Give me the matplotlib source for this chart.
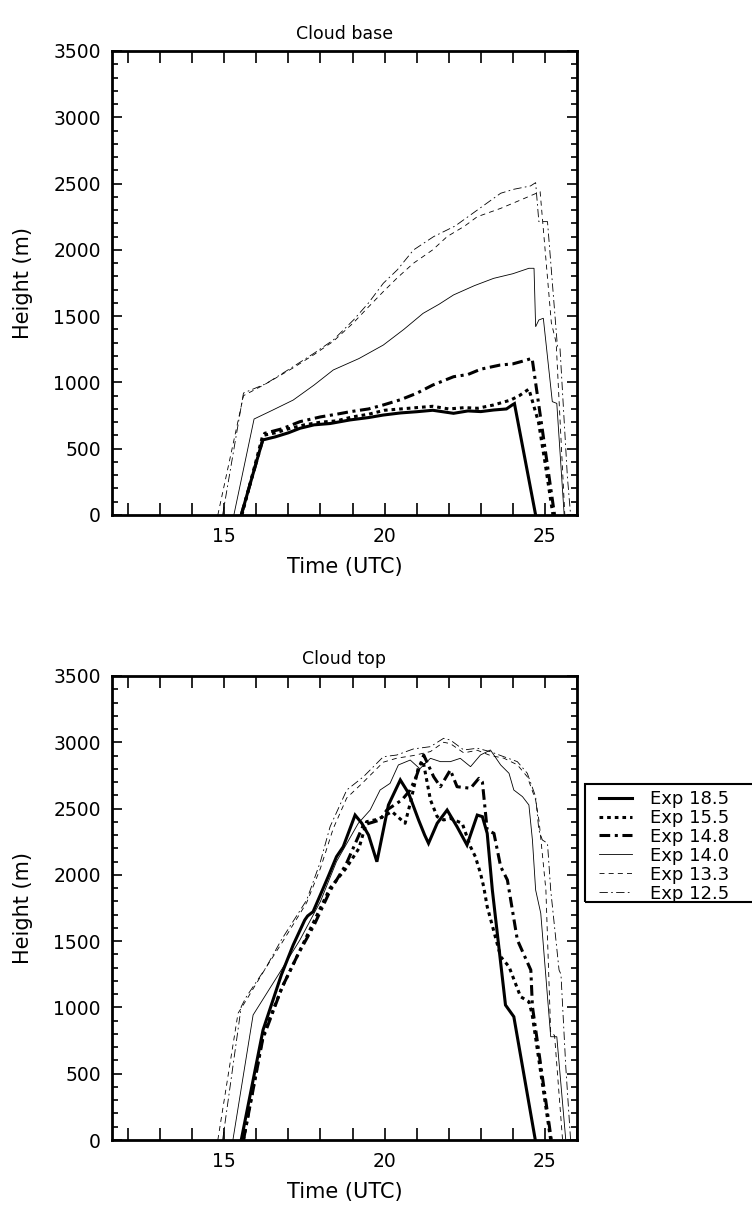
import matplotlib
matplotlib.use("Agg")
import matplotlib.pyplot as plt
from matplotlib.ticker import MultipleLocator, FixedLocator
from matplotlib.patches import Rectangle

plt.rcParams['font.family'] = ['DejaVu Sans']

# ---------------- data: cloud base ----------------
base185_t = [15.53, 16.2, 16.6, 17.0, 17.36, 17.8, 18.3, 18.92, 19.5, 19.96, 20.5, 21.0, 21.5, 22.15, 22.6, 23.0, 23.4, 23.8, 23.98, 24.05, 24.71]
base185_h = [0, 566, 590, 620, 654, 680, 690, 717, 735, 754, 770, 779, 790, 767, 785, 780, 792, 800, 830, 840, 0]

base155_t = [15.55, 16.2, 16.6, 17.0, 17.5, 18.0, 18.5, 19.0, 19.5, 20.0, 20.5, 21.0, 21.5, 22.0, 22.5, 22.9, 23.4, 23.93, 24.2, 24.5, 24.8, 25.0, 25.25]
base155_h = [0, 600, 620, 650, 680, 700, 710, 740, 760, 790, 800, 810, 820, 800, 810, 805, 830, 867, 900, 950, 700, 400, 0]

base148_t = [15.53, 16.26, 16.8, 17.36, 18.0, 18.5, 18.92, 19.5, 19.96, 20.5, 21.0, 21.5, 22.15, 22.6, 23.0, 23.6, 24.0, 24.3, 24.6, 25.3]
base148_h = [0, 616, 650, 704, 740, 760, 779, 800, 830, 870, 918, 980, 1043, 1060, 1100, 1131, 1140, 1160, 1182, 0]

base140_t = [15.3, 15.93, 16.5, 17.15, 17.8, 18.4, 19.2, 19.96, 20.6, 21.2, 21.7, 22.15, 22.8, 23.4, 24.0, 24.5, 24.66, 24.71, 24.81, 24.95, 25.23, 25.37, 25.6]
base140_h = [0, 724, 790, 867, 980, 1094, 1180, 1282, 1400, 1521, 1590, 1660, 1730, 1785, 1820, 1861, 1861, 1420, 1471, 1484, 855, 842, 0]

base133_t = [14.8, 15.6, 16.3, 17.15, 17.8, 18.4, 19.03, 19.5, 19.96, 20.4, 20.9, 21.5, 21.95, 22.5, 22.89, 23.62, 24.24, 24.85, 25.2, 25.35, 25.62]
base133_h = [0, 900, 990, 1110, 1210, 1310, 1450, 1570, 1685, 1790, 1899, 2000, 2100, 2180, 2250, 2313, 2376, 2439, 1450, 1300, 0]

base125_t = [14.95, 15.6, 16.3, 17.15, 17.8, 18.4, 19.03, 19.5, 19.96, 20.4, 20.9, 21.53, 22.2, 22.89, 23.62, 24.03, 24.55, 24.71, 24.81, 25.08, 25.39, 25.47, 25.7, 25.8]
base125_h = [0, 920, 990, 1119, 1220, 1320, 1471, 1600, 1748, 1850, 1999, 2100, 2180, 2300, 2427, 2457, 2482, 2507, 2213, 2213, 1270, 1257, 289, 0]

# ---------------- data: cloud top ----------------
top185_t = [15.53, 16.21, 16.78, 17.15, 17.51, 17.6, 17.77, 18.04, 18.24, 18.5, 18.71, 19.08, 19.29, 19.5, 19.76, 20.12, 20.49, 20.75, 21.06, 21.25, 21.37, 21.64, 21.95, 22.26, 22.57, 22.89, 23.05, 23.2, 23.36, 23.77, 24.03, 24.7]
top185_h = [0, 830, 1245, 1471, 1659, 1690, 1722, 1873, 1986, 2137, 2212, 2451, 2389, 2300, 2099, 2527, 2716, 2615, 2414, 2300, 2238, 2389, 2489, 2363, 2225, 2451, 2439, 2313, 1886, 1018, 930, 0]

top155_t = [15.6, 16.2, 16.8, 17.3, 17.8, 18.3, 18.8, 19.2, 19.44, 19.8, 20.23, 20.64, 20.8, 21.06, 21.2, 21.43, 21.64, 21.84, 22.05, 22.42, 22.68, 22.83, 22.99, 23.09, 23.2, 23.62, 23.88, 24.24, 24.5, 24.6, 25.18]
top155_h = [0, 780, 1150, 1400, 1650, 1900, 2050, 2200, 2401, 2420, 2477, 2389, 2540, 2816, 2860, 2565, 2439, 2414, 2426, 2389, 2212, 2137, 2012, 1911, 1760, 1383, 1307, 1081, 1043, 950, 0]

top148_t = [15.6, 16.2, 16.8, 17.3, 17.8, 18.3, 18.8, 19.34, 19.86, 20.07, 20.54, 20.8, 21.0, 21.22, 21.53, 21.74, 22.05, 22.26, 22.68, 22.94, 23.05, 23.2, 23.41, 23.62, 23.83, 24.14, 24.56, 24.61, 25.2]
top148_h = [0, 760, 1150, 1400, 1620, 1880, 2080, 2376, 2414, 2489, 2565, 2640, 2750, 2904, 2740, 2665, 2791, 2665, 2653, 2728, 2700, 2338, 2313, 2062, 1961, 1509, 1282, 1006, 0]

top140_t = [15.27, 15.9, 16.78, 17.36, 18.0, 18.5, 19.18, 19.55, 19.86, 20.17, 20.43, 20.8, 21.1, 21.43, 21.74, 22.05, 22.36, 22.68, 22.99, 23.3, 23.62, 23.88, 24.03, 24.3, 24.5, 24.61, 24.71, 24.87, 25.18, 25.37, 25.65]
top140_h = [0, 943, 1282, 1509, 1800, 2100, 2389, 2489, 2640, 2690, 2829, 2866, 2800, 2879, 2854, 2854, 2879, 2816, 2904, 2942, 2829, 2766, 2640, 2590, 2527, 2263, 1886, 1710, 779, 779, 0]

top133_t = [14.8, 15.43, 15.7, 16.3, 16.78, 17.57, 18.0, 18.4, 18.82, 19.34, 19.96, 20.38, 20.9, 21.43, 21.84, 22.05, 22.47, 22.89, 23.3, 23.72, 24.14, 24.45, 24.71, 24.82, 25.03, 25.18, 25.3, 25.55]
top133_h = [0, 956, 1060, 1300, 1480, 1790, 2050, 2350, 2580, 2700, 2850, 2880, 2900, 2930, 3000, 2990, 2920, 2940, 2900, 2880, 2830, 2740, 2565, 2400, 1886, 805, 790, 0]

top125_t = [14.95, 15.53, 15.69, 16.3, 16.78, 17.57, 18.0, 18.3, 18.82, 19.34, 19.96, 20.38, 20.9, 21.43, 21.84, 22.05, 22.47, 22.89, 23.3, 23.72, 24.14, 24.45, 24.71, 24.81, 24.92, 25.08, 25.18, 25.44, 25.5, 25.65, 25.8]
top125_h = [0, 1006, 1081, 1300, 1509, 1810, 2100, 2363, 2640, 2740, 2891, 2904, 2950, 2967, 3030, 3017, 2942, 2955, 2929, 2891, 2854, 2766, 2590, 2338, 2263, 2238, 1886, 1282, 1250, 553, 0]

labels = ["Exp 18.5", "Exp 15.5", "Exp 14.8", "Exp 14.0", "Exp 13.3", "Exp 12.5"]
titles = ["Cloud base", "Cloud top"]

styles = [
    dict(color="black", lw=2.2, ls="-"),
    dict(color="black", lw=2.2, ls=(0, (1.2, 1.3))),
    dict(color="black", lw=2.2, ls=(0, (3.5, 1.5, 1.0, 1.5))),
    dict(color="black", lw=0.6, ls="-"),
    dict(color="black", lw=0.6, ls=(0, (6, 5))),
    dict(color="black", lw=0.6, ls=(0, (10, 4, 2, 4))),
]

base_series = [(base185_t, base185_h), (base155_t, base155_h), (base148_t, base148_h),
               (base140_t, base140_h), (base133_t, base133_h), (base125_t, base125_h)]
top_series = [(top185_t, top185_h), (top155_t, top155_h), (top148_t, top148_h),
              (top140_t, top140_h), (top133_t, top133_h), (top125_t, top125_h)]

W, H = 752, 1213
fig = plt.figure(figsize=(W / 100, H / 100), dpi=100)
ax1 = fig.add_axes([112 / W, 1 - 515 / H, 465 / W, 464 / H])
ax2 = fig.add_axes([112 / W, 1 - 1140 / H, 465 / W, 464 / H])

handles = []
for ax, series, title in [(ax1, base_series, titles[0]), (ax2, top_series, titles[1])]:
    hs = []
    for (t, h), st, lab in zip(series, styles, labels):
        ln, = ax.plot(t, h, label=lab, solid_joinstyle="miter", **st)
        hs.append(ln)
    handles = hs
    ax.set_xlim(11.5, 26.0)
    ax.set_ylim(0, 3500)
    ax.xaxis.set_major_locator(FixedLocator([15, 20, 25]))
    ax.xaxis.set_minor_locator(MultipleLocator(1))
    ax.yaxis.set_major_locator(MultipleLocator(500))
    ax.yaxis.set_minor_locator(MultipleLocator(100))
    ax.tick_params(axis="both", which="both", direction="in", top=True, right=True,
                   width=1.2, labelsize=13.5, colors="black")
    ax.tick_params(axis="x", which="both", length=8.5, pad=8.5)
    ax.tick_params(axis="y", which="major", length=7.2, pad=8)
    ax.tick_params(axis="y", which="minor", length=4.5)
    for sp in ax.spines.values():
        sp.set_linewidth(2.0)
    ax.set_xlabel("Time (UTC)", fontsize=15, labelpad=8)
    ax.set_ylabel("Height (m)", fontsize=15, labelpad=15)
    ax.set_title(title, fontsize=12.5, pad=8.5)

# legend frame (extends past the right edge of the figure, as in the original)
fig.patches.append(Rectangle((585 / W, 1 - 902 / H), 190 / W, 118 / H,
                             transform=fig.transFigure, fill=False,
                             edgecolor="black", linewidth=1.5))
leg = fig.legend(handles=handles, labels=labels, loc="upper left",
                 bbox_to_anchor=(599 / W, 1 - 790 / H),
                 bbox_transform=fig.transFigure,
                 fontsize=13, frameon=False,
                 handlelength=1.8, handletextpad=1.0, labelspacing=0.05, borderpad=0,
                 borderaxespad=0)

fig.savefig("out.png", dpi=100)
